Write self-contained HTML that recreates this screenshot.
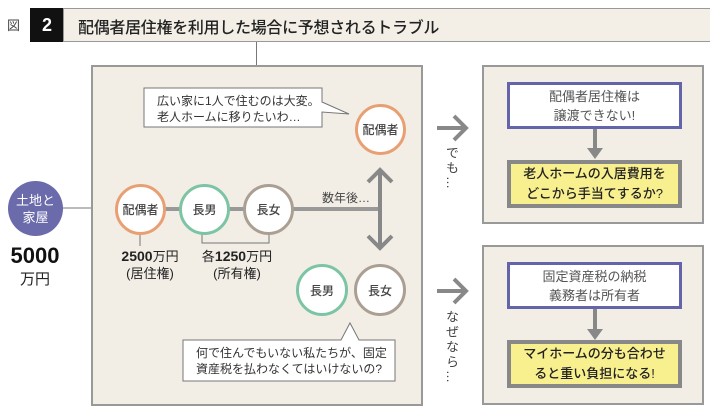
<!DOCTYPE html><html><head><meta charset="utf-8"><style>
body{margin:0;width:710px;height:413px;background:#fff;position:relative;font-family:"Liberation Sans","Noto Sans CJK JP",sans-serif;color:#333;overflow:hidden}
.a{position:absolute}
.box{position:absolute;background:#f2eee6;border:2px solid #999;box-sizing:border-box}
.c{position:absolute;border-radius:50%;background:#fff;box-sizing:border-box;border:3px solid;display:flex;align-items:center;justify-content:center;font-size:12px;font-weight:500;color:#444}
.bl{position:absolute;background:#fff;border:3px solid #6464aa;box-sizing:border-box;display:flex;align-items:center;justify-content:center;text-align:center;font-size:13px;line-height:19px;color:#555}
.yl{position:absolute;background:#f8ef8e;border:4px solid #888;box-sizing:border-box;display:flex;align-items:center;justify-content:center;text-align:center;font-size:13px;font-weight:500;line-height:20px;color:#222}
.vt{position:absolute;writing-mode:vertical-rl;font-size:13px;color:#444;letter-spacing:2px}
</style></head><body>
<div class="a" style="left:7px;top:15px;font-size:13px;color:#444">図</div>
<div class="a" style="left:30px;top:8px;width:34px;height:34px;background:#111;color:#fff;font-weight:bold;font-size:18px;text-align:center;line-height:34px">2</div>
<div class="a" style="left:63px;top:8px;width:650px;height:34px;background:#f3efe6;border:1px solid #999;box-sizing:border-box"></div>
<div class="a" style="left:78px;top:14px;font-size:16px;font-weight:500;color:#222;letter-spacing:-0.3px">配偶者居住権を利用した場合に予想されるトラブル</div>
<div class="a" style="left:256px;top:42px;width:1px;height:24px;background:#777"></div>
<div class="box" style="left:91px;top:65px;width:332px;height:341px"></div>
<div class="box" style="left:482px;top:65px;width:222px;height:159px"></div>
<div class="box" style="left:482px;top:245px;width:222px;height:160px"></div>
<svg class="a" style="left:0;top:0" width="710" height="413">
<line x1="62" y1="208" x2="91" y2="208" stroke="#777" stroke-width="1"/>
<line x1="140" y1="209" x2="381" y2="209" stroke="#999" stroke-width="4"/>
<line x1="380" y1="170" x2="380" y2="248" stroke="#888" stroke-width="4"/>
<polyline points="368,182 380,170 392,182" fill="none" stroke="#888" stroke-width="4"/>
<polyline points="368,236 380,248 392,236" fill="none" stroke="#888" stroke-width="4"/>
<line x1="140" y1="233" x2="140" y2="246" stroke="#777"/>
<polyline points="202,233 202,243 269,243 269,233" fill="none" stroke="#777"/>
<polygon points="144,88 322,88 322,102 349,114 322,112 322,127 144,127" fill="#fff" stroke="#777"/>
<polygon points="183,340 341,340 350,323 359,340 395,340 395,381 183,381" fill="#fff" stroke="#777"/>
<g stroke="#888" stroke-width="4" fill="none">
<line x1="437" y1="128" x2="466" y2="128"/><polyline points="454,116 466,128 454,140"/>
<line x1="437" y1="291" x2="466" y2="291"/><polyline points="454,279 466,291 454,303"/>
</g>
<line x1="595" y1="128" x2="595" y2="150" stroke="#888" stroke-width="4"/><polygon points="587,148 603,148 595,159" fill="#888"/>
<line x1="595" y1="309" x2="595" y2="331" stroke="#888" stroke-width="4"/><polygon points="587,329 603,329 595,340" fill="#888"/>
</svg>
<div class="a" style="left:157px;top:93px;font-size:12px;line-height:16px;color:#333">広い家に1人で住むのは大変。<br>老人ホームに移りたいわ…</div>
<div class="a" style="left:196px;top:345px;font-size:12px;line-height:16px;color:#333">何で住んでもいない私たちが、固定<br>資産税を払わなくてはいけないの?</div>
<div class="c" style="left:355px;top:104px;width:51px;height:51px;border-color:#e8a073">配偶者</div>
<div class="c" style="left:115px;top:184px;width:51px;height:51px;border-color:#e8a073">配偶者</div>
<div class="c" style="left:179px;top:184px;width:51px;height:51px;border-color:#7cc4a4">長男</div>
<div class="c" style="left:243px;top:184px;width:51px;height:51px;border-color:#aa9f92">長女</div>
<div class="c" style="left:296px;top:264px;width:52px;height:52px;border-color:#7cc4a4">長男</div>
<div class="c" style="left:354px;top:264px;width:52px;height:52px;border-color:#aa9f92">長女</div>
<div class="a" style="left:322px;top:189px;font-size:12px;color:#444">数年後…</div>
<div class="a" style="left:8px;top:181px;width:55px;height:55px;border-radius:50%;background:#6b6bab;color:#fff;font-size:13px;line-height:17px;display:flex;align-items:center;justify-content:center;text-align:center">土地と<br>家屋</div>
<div class="a" style="left:0;top:243px;width:70px;text-align:center;font-size:22px;font-weight:bold;color:#111">5000</div>
<div class="a" style="left:0;top:268px;width:70px;text-align:center;font-size:15px;color:#222">万円</div>
<div class="a" style="left:110px;top:248px;width:80px;text-align:center;font-size:13px;line-height:17px;color:#222"><b style="font-size:14px">2500</b>万円<br>(居住権)</div>
<div class="a" style="left:195px;top:248px;width:84px;text-align:center;font-size:13px;line-height:17px;color:#222">各<b style="font-size:14px">1250</b>万円<br>(所有権)</div>
<div class="vt" style="left:442px;top:146px">でも…</div>
<div class="vt" style="left:442px;top:310px">なぜなら…</div>
<div class="bl" style="left:507px;top:82px;width:175px;height:47px">配偶者居住権は<br>譲渡できない!</div>
<div class="yl" style="left:507px;top:160px;width:175px;height:48px">老人ホームの入居費用を<br>どこから手当てするか?</div>
<div class="bl" style="left:507px;top:262px;width:175px;height:47px">固定資産税の納税<br>義務者は所有者</div>
<div class="yl" style="left:507px;top:340px;width:175px;height:48px">マイホームの分も合わせ<br>ると重い負担になる!</div>
</body></html>
